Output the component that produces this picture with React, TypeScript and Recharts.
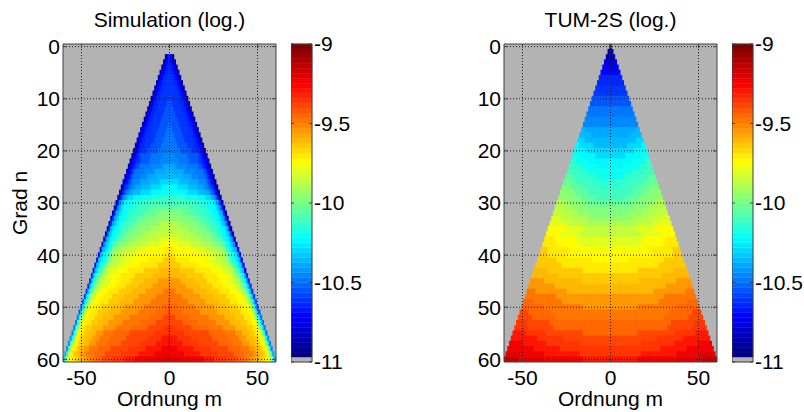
import { ScatterChart, Scatter, ComposedChart, XAxis, YAxis, CartesianGrid, ReferenceLine, ReferenceArea } from 'recharts'

// log10 values are stored as level characters: level k stands for -11 + 0.05 * k
const LEVELS = '0123456789abcdefghijklmnopqrstuvwxyzABCDE'

// One row per degree n, values for |m| = 0..n (both fields are symmetric in m).
// Rows are run-length coded as "<level>:<count>" tokens.
const simulationFirstDegree = 2
const simulationRows = [
  '7 5 2',
  '7 6 5 2',
  '7:2 6 5 2',
  '8 7:2 6 5 2',
  '8:2 7:2 6 5 2',
  '8:3 7:2 6 5 2',
  '8:4 7:2 6 5 2',
  '8:5 7:2 6 5 2',
  '9 8:5 7:2 6 5 2',
  '9:2 8:5 7:2 6 5 2',
  '9:3 8:5 7:2 6 5 2',
  '9:4 8:5 7:2 6 5 2',
  '9:5 8:5 7:2 6 5 2',
  'a 9:5 8:5 7:2 6 5 2',
  'a:2 9:5 8:5 7:2 6 5 2',
  'a:3 9:5 8:5 7:2 6 5 2',
  'a:4 9:5 8:5 7:2 6 5 2',
  'a:5 9:6 8:4 7:2 6 5 2',
  'b a:6 9:6 8:3 7:2 6 5 2',
  'b:4 a:7 9:6 8 7 6 5 2',
  'b:6 a:6 9:5 8:2 7 6 5 2',
  'c:4 b:7 a:6 9:2 8 7 6 5 2',
  'd:2 c:7 b:6 a:5 9 8 6 5 2',
  'd:8 c:5 b:4 a:4 9 8 6 5 2',
  'e:6 d:6 c:5 b:4 a 9 8 6 5 2',
  'f:5 e:6 d:5 c:4 b:2 a 9 8 7 5 2',
  'g:5 f:6 e:6 d:4 c:2 b a 9 7 5 2',
  'h:10 g:6 f:5 e:3 d c b 9 6 2',
  'i:15 h:5 g:4 f:2 e d b 7 3',
  'j:12 i:6 h:4 g:4 f e d b 7 3',
  'k:8 j:7 i:5 h:4 g:2 f:2 e d c 7 3',
  'l:7 k:7 j:5 i:4 h:2 g:2 f:2 e d c 7 3',
  'm:6 l:7 k:5 j:4 i:3 h:3 g f e d c 8 3',
  'n:4 m:7 l:6 k:4 j:3 i:3 h:2 g f:2 e d 8 3',
  'n:8 m:7 l:5 k:4 j:3 i:2 h g f:2 e d 9 3',
  'o:6 n:7 m:6 l:4 k:3 j:3 i:2 g f:2 e d a 4',
  'p:5 o:8 n:6 m:5 l:3 k:3 j:2 h g f e d b 4',
  'q:3 p:12 o:6 n:5 m:3 l:2 k:2 h g f e d c 5',
  'r q:3 p:17 o:5 n:4 m:2 l k i h g f e d 5',
  's r:3 q:8 p:10 o:5 n:4 m:2 l k i h g f e d 5',
  's r:6 q:10 p:8 o:5 n:3 m:2 l j i h g e d 6',
  't s:5 r:9 q:9 p:6 o:4 n:2 m k j i g e d 6',
  't s:9 r:10 q:8 p:5 o:3 n:2 l k j h f d 7',
  'u t:6 s:8 r:7 q:7 p:5 o:3 n:2 m l j i f d 7',
  'u t:9 s:8 r:7 q:6 p:5 o:3 n m l k i g d 7',
  'v u:3 t:10 s:8 r:7 q:6 p:4 o:2 n m l j g d 8',
  'v u:7 t:10 s:8 r:7 q:5 p:4 o n m k h e 8',
  'w u:10 t:10 s:8 r:6 q:5 p:3 o:2 n k h e 9',
  'w v:4 u:10 t:11 s:7 r:6 q:4 p:2 o:2 l i e 9',
  'x v:7 u:10 t:10 s:7 r:6 q:4 p:2 o m i e 9',
  'x w:3 v:8 u:11 t:9 s:6 r:5 q:3 p:2 o m j f a',
  'x w:7 v:9 u:10 t:8 s:6 r:4 q:3 p:2 n k f a',
  'y x:3 w:9 v:9 u:9 t:7 s:6 r:4 q:2 p n k g a',
  'y x:8 w:14 v:9 u:6 t:4 s:4 r:3 q:2 p o l g a',
  'z y:4 x:8 w:12 v:9 u:6 t:4 s:4 r:3 q p o l g b',
  'z y:7 x:9 w:11 v:8 u:6 t:4 s:3 r:3 q p o l h b',
  'A z:4 y:9 x:10 w:10 v:7 u:5 t:3 s:3 r q:2 o m h b',
  'A z:8 y:9 x:10 w:9 v:6 u:5 t:3 s:2 r:2 q o m i c',
  'B A:6 z:13 y:6 x:7 w:6 v:4 u:3 t:3 s:3 r:2 q:2 p o m i c',
]

const tumFirstDegree = 0
const tumRows = [
  '1',
  '2:2',
  '3:3',
  '4:4',
  '5:5',
  '6:6',
  '7:7',
  '7:8',
  '8:9',
  '8:10',
  '9:11',
  '9:12',
  'a:13',
  'a:14',
  'b:15',
  'b:16',
  'c:15 d:2',
  'c:11 d:7',
  'd:15 e:4',
  'd:10 e:8 f:2',
  'e:14 f:7',
  'e:9 f:9 g:4',
  'f:13 g:7 h:3',
  'f:8 g:9 h:5 i:2',
  'g:13 h:6 i:6',
  'g:8 h:8 i:6 j:4',
  'h:11 i:9 j:7',
  'h:7 i:9 j:7 k:5',
  'i:13 j:7 k:5 l:4',
  'i:9 j:8 k:6 l:7',
  'j:13 k:7 l:6 m:5',
  'k:14 l:8 m:6 n:4',
  'k:10 l:9 m:7 n:7',
  'l:13 m:9 n:7 o:5',
  'm:16 n:9 o:10',
  'n:15 o:11 p:10',
  'n:18 o:11 p:8',
  'o:20 p:12 q:6',
  'o:18 p:13 q:8',
  'p:23 q:13 r:4',
  'p:25 q:11 r:5',
  'p:11 q:20 r:11',
  'q:28 r:15',
  'q:16 r:20 s:8',
  'r:30 s:15',
  'r:17 s:21 t:8',
  's:32 t:15',
  's:25 t:18 u:5',
  't:31 u:18',
  't:28 u:16 v:6',
  't:16 u:22 v:13',
  'u:34 v:13 w:5',
  'u:31 v:14 w:8',
  'v:35 w:13 x:6',
  'v:33 w:14 x:8',
  'v:16 w:21 x:12 y:7',
  'w:27 x:15 y:15',
  'w:18 x:19 y:13 z:8',
  'x:29 y:15 z:15',
  'x:18 y:20 z:13 A:9',
  'y:16 z:22 A:15 B:8',
]

const orderTicks = [-50, 0, 50]
const degreeTicks = [0, 10, 20, 30, 40, 50, 60]
const colorbarTicks = [-11, -10.5, -10, -9.5, -9]

const V_MIN = -11
const V_MAX = -9
const NAN_GRAY = '#b3b3b3'
const EDGE = '#404040'
const GRID = '#1a1a1a'
const FONT = '"Liberation Sans", Arial, Helvetica, sans-serif'
const FONT_SIZE = 21

// jet, with the lowest slot of the 64-entry map showing the grey of missing coefficients
const jetChannel = (t: number, c: number) => Math.round(255 * Math.min(1, Math.max(0, 1.5 - Math.abs(4 * t - c))))
const jet = (t: number) => `rgb(${jetChannel(t, 3)},${jetChannel(t, 2)},${jetChannel(t, 1)})`
const colormap = [NAN_GRAY, ...Array.from({ length: 63 }, (_, i) => jet(i / 62))]

function colorOf(v: number) {
  const i = Math.floor(((v - V_MIN) / (V_MAX - V_MIN)) * colormap.length + 1e-9)
  return colormap[Math.min(colormap.length - 1, Math.max(0, i))]
}

function decodeRow(row: string) {
  const values: number[] = []
  for (const token of row.split(' ')) {
    const [ch, count] = token.split(':')
    const v = V_MIN + LEVELS.indexOf(ch) * 0.05
    for (let i = 0; i < (count ? Number(count) : 1); i++) values.push(v)
  }
  return values
}

function toCells(rows: string[], firstDegree: number) {
  const cells: { m: number; n: number; v: number }[] = []
  rows.forEach((row, i) => {
    const n = firstDegree + i
    const half = decodeRow(row)
    for (let m = -n; m <= n; m++) {
      const v = half[Math.abs(m)]
      if (v !== undefined) cells.push({ m, n, v })
    }
  })
  return cells
}

const simulationCells = toCells(simulationRows, simulationFirstDegree)
const tumCells = toCells(tumRows, tumFirstDegree)

const PLOT_W = 213
const PLOT_H = 318
const cellW = PLOT_W / 121
const cellH = PLOT_H / 61
const TICK_M = 2.2
const TICK_N = 0.75

function CellRect(props: any) {
  const { cx, cy, payload } = props
  return (
    <rect
      x={cx - cellW / 2 - 0.3}
      y={cy - cellH / 2 - 0.3}
      width={cellW + 0.6}
      height={cellH + 0.6}
      fill={colorOf(payload.v)}
    />
  )
}

const tickStyle = { fill: '#000', fontSize: FONT_SIZE, fontFamily: FONT }

function HeatPanel({ cells, left }: { cells: { m: number; n: number; v: number }[]; left: number }) {
  return (
    <div style={{ position: 'absolute', left, top: 0 }}>
      <ScatterChart width={290} height={412} margin={{ top: 44, right: 14, bottom: 0, left: 23 }}>
        <CartesianGrid fill={NAN_GRAY} fillOpacity={1} horizontal={false} vertical={false} />
        <XAxis
          type="number"
          dataKey="m"
          domain={[-60.5, 60.5]}
          allowDataOverflow
          ticks={orderTicks}
          interval={0}
          height={50}
          axisLine={false}
          tickLine={false}
          tickSize={0}
          tickMargin={8}
          tick={tickStyle}
          label={{ value: 'Ordnung m', position: 'insideBottom', offset: 6, fill: '#000', fontSize: FONT_SIZE, fontFamily: FONT }}
        />
        <YAxis
          type="number"
          dataKey="n"
          domain={[-0.5, 60.5]}
          allowDataOverflow
          reversed
          ticks={degreeTicks}
          interval={0}
          width={40}
          axisLine={false}
          tickLine={false}
          tickSize={0}
          tickMargin={3}
          tick={tickStyle}
        />
        <Scatter data={cells} shape={CellRect} isAnimationActive={false} />
        {orderTicks.map((t) => (
          <ReferenceLine key={`gx${t}`} x={t} stroke={GRID} strokeDasharray="1 2" zIndex={700} />
        ))}
        {degreeTicks.map((t) => (
          <ReferenceLine key={`gy${t}`} y={t} stroke={GRID} strokeDasharray="1 2" zIndex={700} />
        ))}
        {degreeTicks.map((t) => (
          <ReferenceLine key={`tl${t}`} segment={[{ x: -60.5, y: t }, { x: -60.5 + TICK_M, y: t }]} stroke={EDGE} zIndex={700} />
        ))}
        {degreeTicks.map((t) => (
          <ReferenceLine key={`tr${t}`} segment={[{ x: 60.5 - TICK_M, y: t }, { x: 60.5, y: t }]} stroke={EDGE} zIndex={700} />
        ))}
        {orderTicks.map((t) => (
          <ReferenceLine key={`tb${t}`} segment={[{ x: t, y: 60.5 }, { x: t, y: 60.5 - TICK_N }]} stroke={EDGE} zIndex={700} />
        ))}
        {orderTicks.map((t) => (
          <ReferenceLine key={`tt${t}`} segment={[{ x: t, y: -0.5 }, { x: t, y: -0.5 + TICK_N }]} stroke={EDGE} zIndex={700} />
        ))}
        <ReferenceArea x1={-60.5} x2={60.5} y1={-0.5} y2={60.5} fill="none" stroke={EDGE} zIndex={700} />
      </ScatterChart>
    </div>
  )
}

function Colorbar({ left }: { left: number }) {
  const band = (V_MAX - V_MIN) / colormap.length
  return (
    <div style={{ position: 'absolute', left, top: 0 }}>
      <ComposedChart width={71} height={412} margin={{ top: 44, right: 0, bottom: 50, left: 0 }}>
        <XAxis type="number" dataKey="x" domain={[0, 1]} allowDataOverflow hide />
        <YAxis
          type="number"
          domain={[V_MIN, V_MAX]}
          allowDataOverflow
          orientation="right"
          ticks={colorbarTicks}
          interval={0}
          width={50}
          axisLine={false}
          tickLine={false}
          tickSize={0}
          tickMargin={2}
          tick={tickStyle}
        />
        {colormap.map((c, i) => (
          <ReferenceArea
            key={i}
            y1={V_MIN + i * band}
            y2={V_MIN + (i + 1) * band}
            fill={c}
            fillOpacity={1}
            stroke={c}
            strokeWidth={0.4}
          />
        ))}
        {colorbarTicks.map((t) => (
          <ReferenceLine key={`cl${t}`} segment={[{ x: 0, y: t }, { x: 0.14, y: t }]} stroke={EDGE} zIndex={700} />
        ))}
        {colorbarTicks.map((t) => (
          <ReferenceLine key={`cr${t}`} segment={[{ x: 0.86, y: t }, { x: 1, y: t }]} stroke={EDGE} zIndex={700} />
        ))}
        <ReferenceArea y1={V_MIN} y2={V_MAX} fill="none" stroke={EDGE} zIndex={700} />
      </ComposedChart>
    </div>
  )
}

export default function App() {
  return (
    <div
      style={{
        position: 'absolute',
        left: 0,
        top: 0,
        width: 804,
        height: 412,
        background: '#fff',
        fontFamily: FONT,
        overflow: 'hidden',
      }}
    >
      <HeatPanel cells={simulationCells} left={0} />
      <Colorbar left={291} />
      <HeatPanel cells={tumCells} left={441} />
      <Colorbar left={732} />
      <svg width={804} height={412} style={{ position: 'absolute', left: 0, top: 0, pointerEvents: 'none' }}>
        <text x={169.5} y={27} textAnchor="middle" fontSize={FONT_SIZE} fill="#000" fontFamily={FONT}>
          Simulation (log.)
        </text>
        <text x={610.5} y={27} textAnchor="middle" fontSize={FONT_SIZE} fill="#000" fontFamily={FONT}>
          TUM-2S (log.)
        </text>
        <text transform="translate(27,203) rotate(-90)" textAnchor="middle" fontSize={FONT_SIZE} fill="#000" fontFamily={FONT}>
          Grad n
        </text>
      </svg>
    </div>
  )
}
